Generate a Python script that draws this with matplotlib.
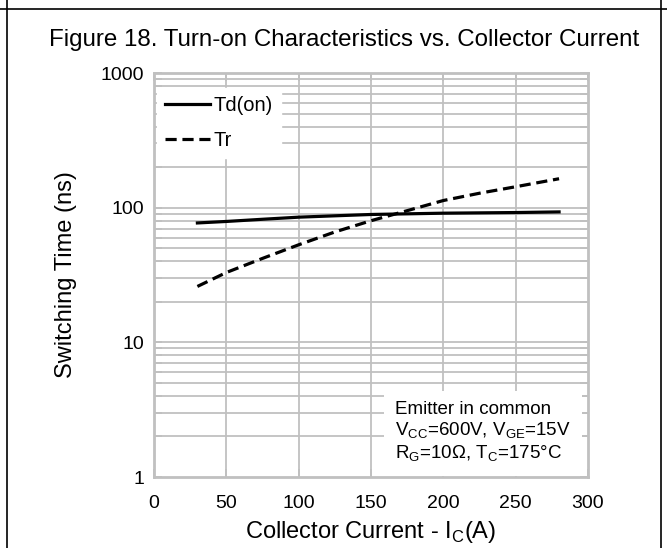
import numpy as np
import matplotlib
matplotlib.use("Agg")
import matplotlib.pyplot as plt
from matplotlib.lines import Line2D
from matplotlib.ticker import LogLocator, NullFormatter, FixedLocator

plt.rcParams["font.family"] = ["Liberation Sans", "DejaVu Sans"]

# Switching time vs. collector current
ic = [30, 50, 75, 100, 125, 150, 175, 200, 225, 250, 280]
td_on = [77, 79, 82, 85, 87, 89, 90, 91, 91.5, 92, 93]
tr = [26, 33, 42, 53, 66, 80, 95, 113, 128, 143, 164]

x_ticks = [0, 50, 100, 150, 200, 250, 300]
y_ticks = [1, 10, 100, 1000]
y_ticklabels = ["1", "10", "100", "1000"]

grid_gray = "#c0c0c0"

fig = plt.figure(figsize=(6.67, 5.48), dpi=100, facecolor="white")
ax = fig.add_axes([154 / 667, 1 - 477 / 548, 434 / 667, 404 / 548])

ax.set_yscale("log")
ax.set_xlim(0, 300)
ax.set_ylim(1, 1000)
ax.xaxis.set_major_locator(FixedLocator(x_ticks))
ax.yaxis.set_major_locator(FixedLocator(y_ticks))
ax.set_yticklabels(y_ticklabels)
ax.yaxis.set_minor_locator(LogLocator(base=10, subs=np.arange(2, 10)))
ax.yaxis.set_minor_formatter(NullFormatter())

# grid drawn by hand so the white label boxes can sit over it but under the ticks
ygrid = [v for v in list(ax.yaxis.get_majorticklocs()) + list(ax.yaxis.get_minorticklocs())
         if 1 < v < 1000]
ax.hlines(ygrid, 0, 300, colors=grid_gray, linewidth=1.3, zorder=0.5)
ax.vlines([v for v in x_ticks if 0 < v < 300], 1, 1000, colors=grid_gray,
          linewidth=1.3, zorder=0.5)

for s in ax.spines.values():
    s.set_color(grid_gray)
    s.set_linewidth(2.0)

ax.tick_params(which="both", direction="in", color=grid_gray, width=1.3,
               top=True, right=True, labelsize=14, labelcolor="black")
ax.tick_params(which="major", length=6)
ax.tick_params(which="minor", length=6)
ax.tick_params(axis="x", pad=13)
ax.tick_params(axis="y", pad=7)

ax.plot(ic, td_on, color="black", linewidth=2.3, zorder=3, label="Td(on)")
ax.plot(ic, tr, color="black", linewidth=2.3, linestyle=(0, (3.5, 1.8)), zorder=3,
        label="Tr")

leg = ax.legend(loc="upper left", bbox_to_anchor=(0.007, 0.963), frameon=True,
                fancybox=False, edgecolor="white", facecolor="white", framealpha=1,
                fontsize=14.5, handlelength=2.25, handletextpad=0.15,
                labelspacing=0.8, borderpad=0.4, borderaxespad=0)
leg.set_zorder(2)

ax.text(0.555, 0.11, "Emitter in common\n"
        "V$_{\\mathregular{CC}}$=600V, V$_{\\mathregular{GE}}$=15V\n"
        "R$_{\\mathregular{G}}$=10Ω, T$_{\\mathregular{C}}$=175°C",
        transform=ax.transAxes, fontsize=13.5, va="center", ha="left",
        linespacing=1.2, zorder=2,
        bbox=dict(boxstyle="square,pad=0.6", facecolor="white", edgecolor="none"))

ax.set_xlabel("Collector Current - I$_{\\mathregular{C}}$(A)", fontsize=17)
ax.set_ylabel("Switching Time (ns)", fontsize=17)
ax.xaxis.set_label_coords(0.5, -0.105)
ax.yaxis.set_label_coords(-0.177, 0.5)

fig.text(344 / 667, 1 - 40 / 548,
         "Figure 18. Turn-on Characteristics vs. Collector Current",
         fontsize=17.4, ha="center", va="center")

# page frame lines
fig.add_artist(Line2D([0, 1], [1 - 9 / 548] * 2, transform=fig.transFigure,
                      color="black", linewidth=1.2))
fig.add_artist(Line2D([7 / 667] * 2, [0, 1], transform=fig.transFigure,
                      color="black", linewidth=1.2))
fig.add_artist(Line2D([661 / 667] * 2, [0, 1], transform=fig.transFigure,
                      color="black", linewidth=1.2))

fig.savefig("out.png", dpi=100, facecolor="white")
